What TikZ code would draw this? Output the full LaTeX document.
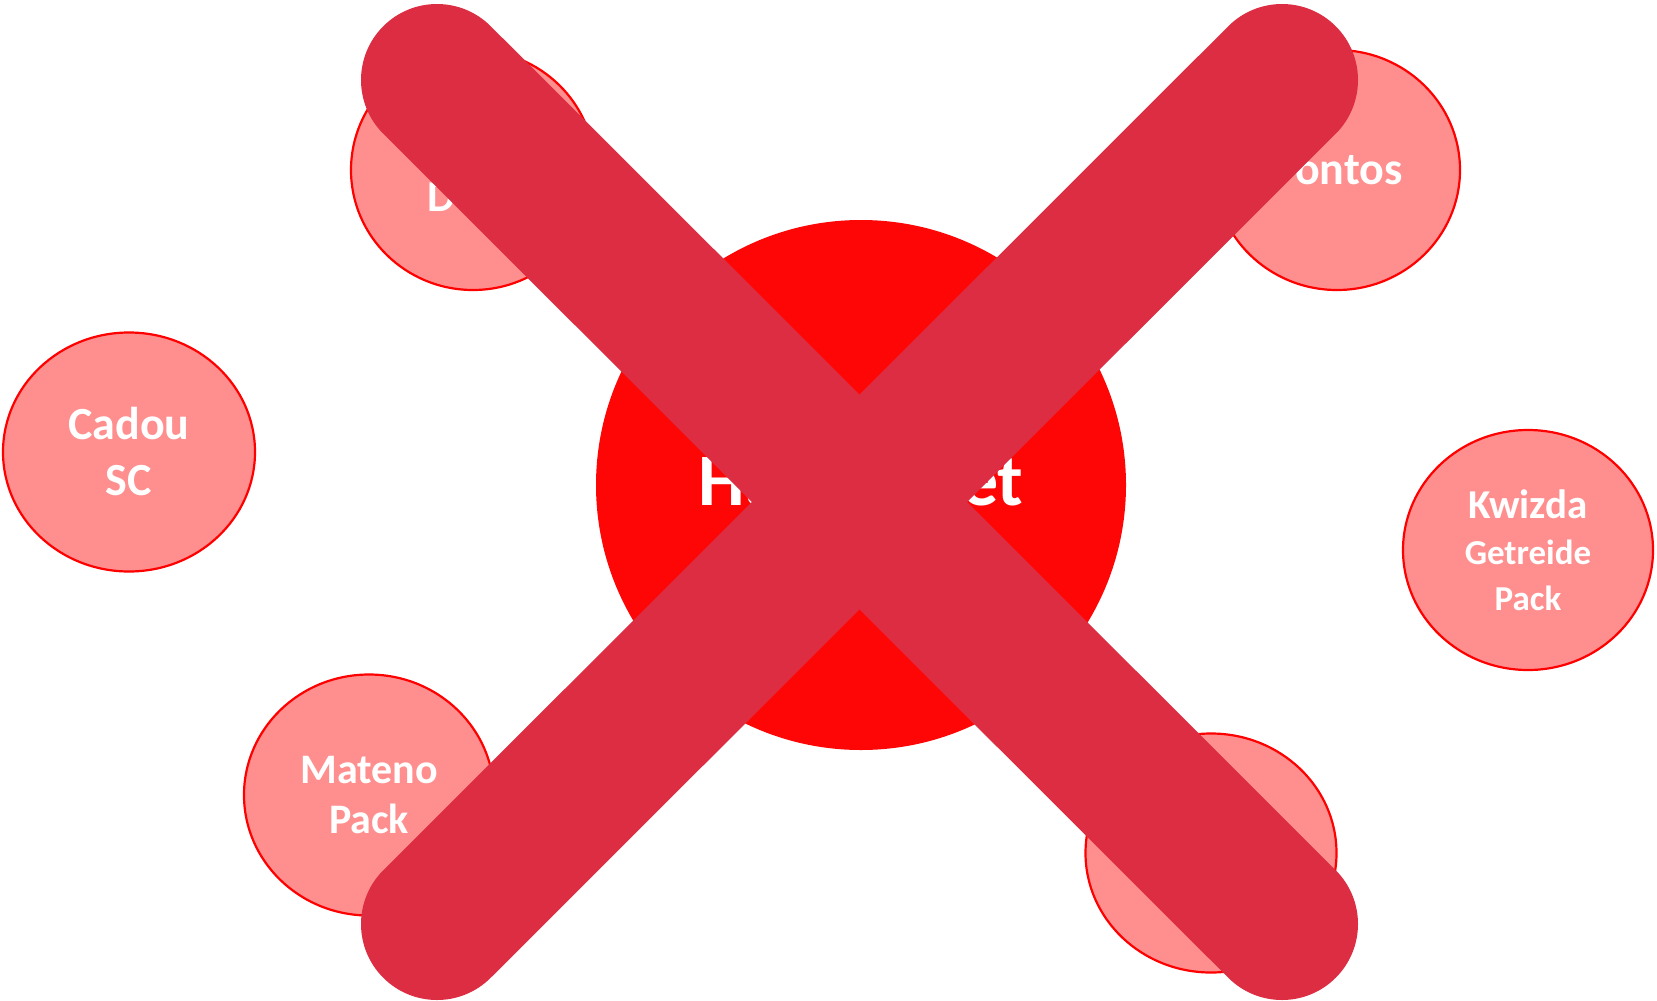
\documentclass[tikz,border=0pt]{standalone}
\usepackage{fontspec}
\setmainfont{Carlito}
\usetikzlibrary{shapes.geometric}
\definecolor{pinkfill}{RGB}{255,143,143}
\definecolor{ringred}{RGB}{255,0,0}
\definecolor{hubred}{RGB}{255,6,6}
\definecolor{crossred}{RGB}{221,45,66}
\tikzset{
  partner/.style={ellipse, draw=ringred, line width=2.2pt, fill=pinkfill,
    minimum width=250pt, minimum height=240pt, inner sep=0pt,
    text=white, align=center, font=\bfseries},
  hub/.style={circle, fill=hubred, minimum size=530pt, inner sep=0pt,
    text=white, font=\bfseries\fontsize{74}{80}\selectfont},
  crossbar/.style={line width=152pt, line cap=round, draw=crossred}
}
\begin{document}
\begin{tikzpicture}[x=1pt,y=-1pt]
\useasboundingbox (0,0) rectangle (1657,1001);
\node[hub] (hub) at (861,485) {Hanspaket};
\node[partner, minimum width=244pt, font=\bfseries\fontsize{44}{52}\selectfont] (tl) at (473,170) {Pack\\Dorn};
\node[partner, minimum width=246pt, font=\bfseries\fontsize{46}{54}\selectfont] (tr) at (1337,170) {Pontos};
\node[partner, minimum width=252pt, minimum height=239pt, font=\bfseries\fontsize{46}{56}\selectfont] (cadou) at (129,452) {Cadou\\SC};
\node[partner, font=\bfseries\fontsize{35}{46}\selectfont] (kwizda) at (1528,550) {{\fontsize{41}{46}\selectfont Kwizda}\\Getreide\\Pack};
\node[partner, minimum height=241pt, font=\bfseries\fontsize{42}{50}\selectfont] (mateno) at (369,795) {Mateno\\Pack};
\node[partner, minimum width=251pt, minimum height=239pt] (br) at (1211,853) {};
\coordinate (xa) at (437,80);
\coordinate (xb) at (1282,924);
\coordinate (xc) at (1282,80);
\coordinate (xd) at (437,924);
\draw[crossbar] (xa) -- (xb);
\draw[crossbar] (xc) -- (xd);
\end{tikzpicture}
\end{document}
